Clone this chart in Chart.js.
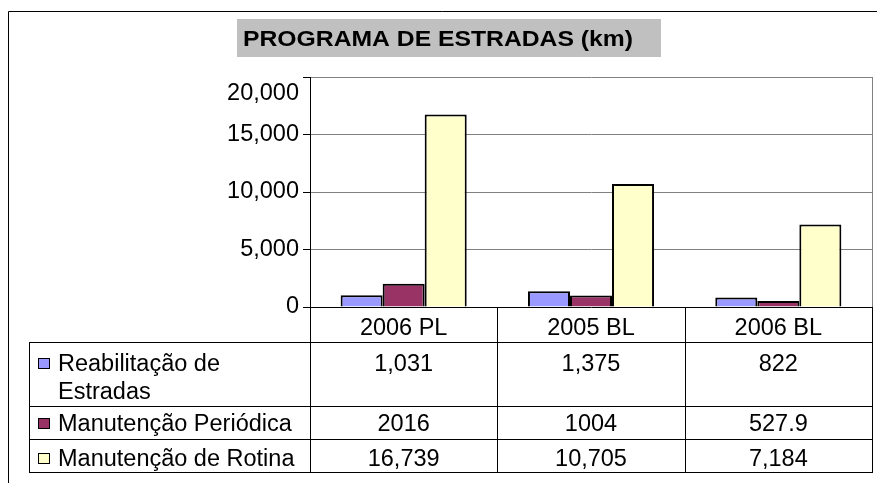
<!DOCTYPE html>
<html>
<head>
<meta charset="utf-8">
<title>Programa de Estradas</title>
<script src="https://cdn.jsdelivr.net/npm/chart.js@4.4.0/dist/chart.umd.min.js"></script>
<style>
    html, body { margin: 0; padding: 0; background: #fff; }
    #chartWrap { position: relative; width: 877px; height: 483px; }
</style>
</head>
<body>
<div id="chartWrap"><canvas id="roadsChart"></canvas></div>
<script>
// --- DATA ---
const categories = ['2006 PL', '2005 BL', '2006 BL'];
const reabilitacao = [1031, 1375, 822];
const periodica = [2016, 1004, 527.9];
const rotina = [16739, 10705, 7184];
const yTicks = [0, 5000, 10000, 15000, 20000];
const chartTitle = 'PROGRAMA DE ESTRADAS (km)';

const FONT = "'Liberation Sans', Arial, sans-serif";
Chart.defaults.font.family = FONT;
Chart.defaults.font.size = 23.5;
Chart.defaults.color = '#000';

const fmtThousands = v => v.toLocaleString('en-US');
const fmtPlain = v => String(v);
const yMax = yTicks[yTicks.length - 1];

// --- TITLE, FRAME AND DATA TABLE (drawn from the chart's own scales) ---
const tablePlugin = {
    id: 'dataTable',
    beforeDraw(chart) {
        const ctx = chart.ctx;
        ctx.save();
        // outer chart frame
        ctx.strokeStyle = '#000';
        ctx.lineWidth = 1;
        ctx.beginPath();
        ctx.moveTo(8.5, 483);
        ctx.lineTo(8.5, 11.5);
        ctx.lineTo(877, 11.5);
        ctx.stroke();
        // title box, text stretched to the original's width
        ctx.fillStyle = '#c0c0c0';
        ctx.fillRect(237, 19, 424, 38);
        ctx.fillStyle = '#000';
        ctx.font = 'bold 22.5px ' + FONT;
        ctx.textAlign = 'left';
        ctx.textBaseline = 'alphabetic';
        const w = ctx.measureText(chartTitle).width;
        ctx.translate(243, 46);
        ctx.scale(390 / w, 1);
        ctx.fillText(chartTitle, 0, 0);
        ctx.restore();
    },
    beforeDatasetsDraw(chart) {
        const {ctx, chartArea: a} = chart;
        ctx.save();
        ctx.strokeStyle = '#808080';
        ctx.lineWidth = 1;
        ctx.beginPath();
        ctx.moveTo(a.right + 0.5, a.top);
        ctx.lineTo(a.right + 0.5, a.bottom);
        ctx.stroke();
        ctx.restore();
    },
    afterDraw(chart) {
        const {ctx, chartArea: a} = chart;
        const xs = chart.scales.x;
        const ys = chart.scales.y;
        const top = a.bottom;
        const tableLeft = 29;
        const rowLines = [top + 35, top + 99, top + 132, top + 165];
        const bottom = rowLines[rowLines.length - 1];

        const edges = [a.left];
        for (let i = 1; i < categories.length; i++) {
            edges.push(Math.round((xs.getPixelForValue(i - 1) + xs.getPixelForValue(i)) / 2));
        }
        edges.push(a.right);

        ctx.save();
        ctx.lineWidth = 1;
        ctx.strokeStyle = '#000';
        ctx.beginPath();
        edges.forEach(ex => {
            ctx.moveTo(ex + 0.5, top);
            ctx.lineTo(ex + 0.5, bottom);
        });
        ctx.moveTo(tableLeft + 0.5, rowLines[0]);
        ctx.lineTo(tableLeft + 0.5, bottom + 0.5);
        rowLines.forEach(ry => {
            ctx.moveTo(tableLeft, ry + 0.5);
            ctx.lineTo(a.right + 1, ry + 0.5);
        });
        ctx.stroke();

        ctx.fillStyle = '#000';
        ctx.font = '23.5px ' + FONT;

        // top y label sits a little below its gridline, as in the original
        ctx.textAlign = 'right';
        ctx.textBaseline = 'middle';
        ctx.fillText(fmtThousands(yMax), a.left - 11, ys.getPixelForValue(yMax) + 17);
        ctx.textBaseline = 'alphabetic';

        // category header row
        ctx.textAlign = 'center';
        categories.forEach((c, i) => ctx.fillText(c, xs.getPixelForValue(i), top + 28));

        // one row per series: legend key, name, values
        const baselines = [top + 64, top + 124, top + 159];
        chart.data.datasets.forEach((ds, j) => {
            const b = baselines[j];
            ctx.fillStyle = ds.backgroundColor;
            ctx.fillRect(38, b - 13, 11, 10);
            ctx.strokeStyle = '#000';
            ctx.strokeRect(38.5, b - 12.5, 11, 10);
            ctx.fillStyle = '#000';
            ctx.textAlign = 'left';
            ds.nameLines.forEach((line, k) => ctx.fillText(line, 58, b + k * 28));
            ctx.textAlign = 'center';
            ds.data.forEach((v, i) => ctx.fillText(ds.fmt(v), xs.getPixelForValue(i), b));
        });
        ctx.restore();
    }
};

const ctx = document.getElementById('roadsChart').getContext('2d');

const roadsChart = new Chart(ctx, {
    type: 'bar',
    data: {
        labels: categories,
        datasets: [
            {
                label: 'Reabilitação de Estradas',
                nameLines: ['Reabilitação de', 'Estradas'],
                fmt: fmtThousands,
                data: reabilitacao,
                backgroundColor: '#9999ff'
            },
            {
                label: 'Manutenção Periódica',
                nameLines: ['Manutenção Periódica'],
                fmt: fmtPlain,
                data: periodica,
                backgroundColor: '#993366'
            },
            {
                label: 'Manutenção de Rotina',
                nameLines: ['Manutenção de Rotina'],
                fmt: fmtThousands,
                data: rotina,
                backgroundColor: '#ffffcc'
            }
        ]
    },
    options: {
        responsive: true,
        maintainAspectRatio: false,
        animation: false,
        devicePixelRatio: 1,
        layout: { padding: { top: 77, right: 5, bottom: 176, left: 0 } },
        datasets: {
            bar: {
                barPercentage: 1,
                categoryPercentage: 0.673,
                borderWidth: 2,
                borderColor: '#000'
            }
        },
        plugins: {
            legend: { display: false },
            tooltip: { enabled: false }
        },
        scales: {
            x: { display: false },
            y: {
                min: 0,
                max: yMax,
                afterFit: s => { s.width = 310; },
                afterBuildTicks: s => { s.ticks = yTicks.map(v => ({ value: v })); },
                grid: {
                    color: c => (c.tick && c.tick.value === 0 ? '#000' : '#808080'),
                    tickColor: '#000',
                    tickLength: 7,
                    lineWidth: 1
                },
                border: { color: '#000', width: 1 },
                ticks: {
                    padding: 4,
                    color: '#000',
                    callback: v => (v === yMax ? '' : fmtThousands(v))
                }
            }
        }
    },
    plugins: [tablePlugin]
});
</script>
</body>
</html>
